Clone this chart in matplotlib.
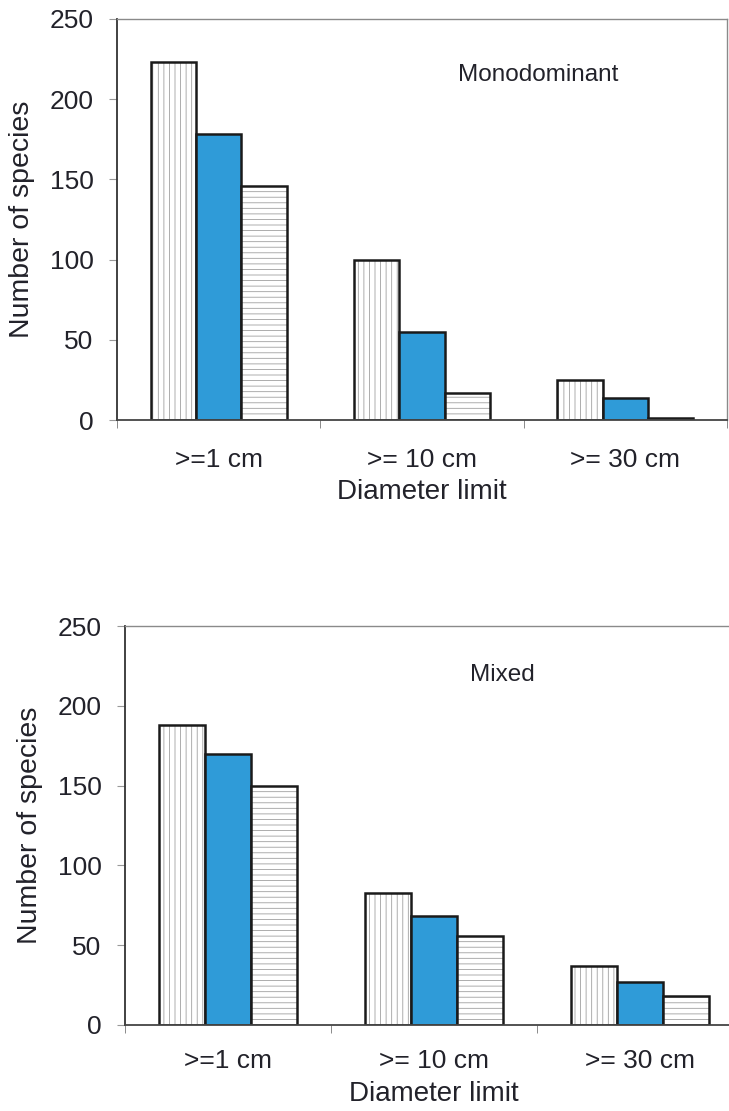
import numpy as np
import matplotlib
matplotlib.use('Agg')
import matplotlib.pyplot as plt

plt.rcParams['font.family'] = ['Liberation Sans', 'DejaVu Sans']
plt.rcParams['hatch.linewidth'] = 0.6

# data
categories = ['>=1 cm', '>= 10 cm', '>= 30 cm']
mono_a = [223, 100, 25]
mono_b = [178, 55, 14]
mono_c = [146, 17, 1]
mixed_a = [188, 83, 37]
mixed_b = [170, 68, 27]
mixed_c = [150, 56, 18]
yticks = [0, 50, 100, 150, 200, 250]

txt = '#22222a'
blue = '#2f9bd8'

fig = plt.figure(figsize=(7.29, 11.11), dpi=100)

def panel(rect, series, note, note_xy, tickpad, xlabpad, show_right):
    ax = fig.add_axes(rect)
    x = np.arange(len(categories))
    w = 0.223
    styles = [('white', '|||'), (blue, None), ('white', '---')]
    for k, (vals, (fc, h)) in enumerate(zip(series, styles)):
        pos = x + (k - 1) * w
        if h:
            ax.bar(pos, vals, w, color=fc, hatch=h, edgecolor='#a0a0a0', linewidth=0)
            ax.bar(pos, vals, w, fill=False, edgecolor='#1a1a1a', linewidth=1.8)
        else:
            ax.bar(pos, vals, w, color=fc, edgecolor='#1a1a1a', linewidth=1.8)
    ax.set_xlim(-0.5, 2.5)
    ax.set_ylim(0, 250)
    ax.set_yticks(yticks)
    ax.set_xticks(x)
    ax.set_xticklabels(categories)
    ax.set_xticks([-0.5, 0.5, 1.5, 2.5], minor=True)
    ax.tick_params(axis='x', which='major', length=0, pad=tickpad, labelsize=19, labelcolor=txt)
    ax.tick_params(axis='x', which='minor', length=6, color='#777777', direction='out')
    ax.tick_params(axis='y', length=6, color='#999999', direction='out', pad=11,
                   labelsize=19, labelcolor=txt)
    for s in ['top', 'right']:
        ax.spines[s].set_color('#8a8a8a')
        ax.spines[s].set_linewidth(1.0)
    ax.spines['right'].set_visible(show_right)
    ax.spines['left'].set_color('#333333')
    ax.spines['left'].set_linewidth(1.3)
    ax.spines['bottom'].set_color('#444444')
    ax.spines['bottom'].set_linewidth(1.3)
    ax.set_ylabel('Number of species', fontsize=20.5, color=txt, labelpad=10)
    ax.set_xlabel('Diameter limit', fontsize=20, color=txt, labelpad=xlabpad)
    ax.text(note_xy[0], note_xy[1], note, fontsize=17.5, color=txt, ha='center', va='center')
    return ax

panel([117 / 729, 691 / 1111, 610 / 729, 401 / 1111], [mono_a, mono_b, mono_c],
      'Monodominant', (1.57, 215), 20, 5, True)
panel([125 / 729, 86 / 1111, 618 / 729, 399 / 1111], [mixed_a, mixed_b, mixed_c],
      'Mixed', (1.33, 219), 17, 6, False)

fig.savefig('out.png', dpi=100)
